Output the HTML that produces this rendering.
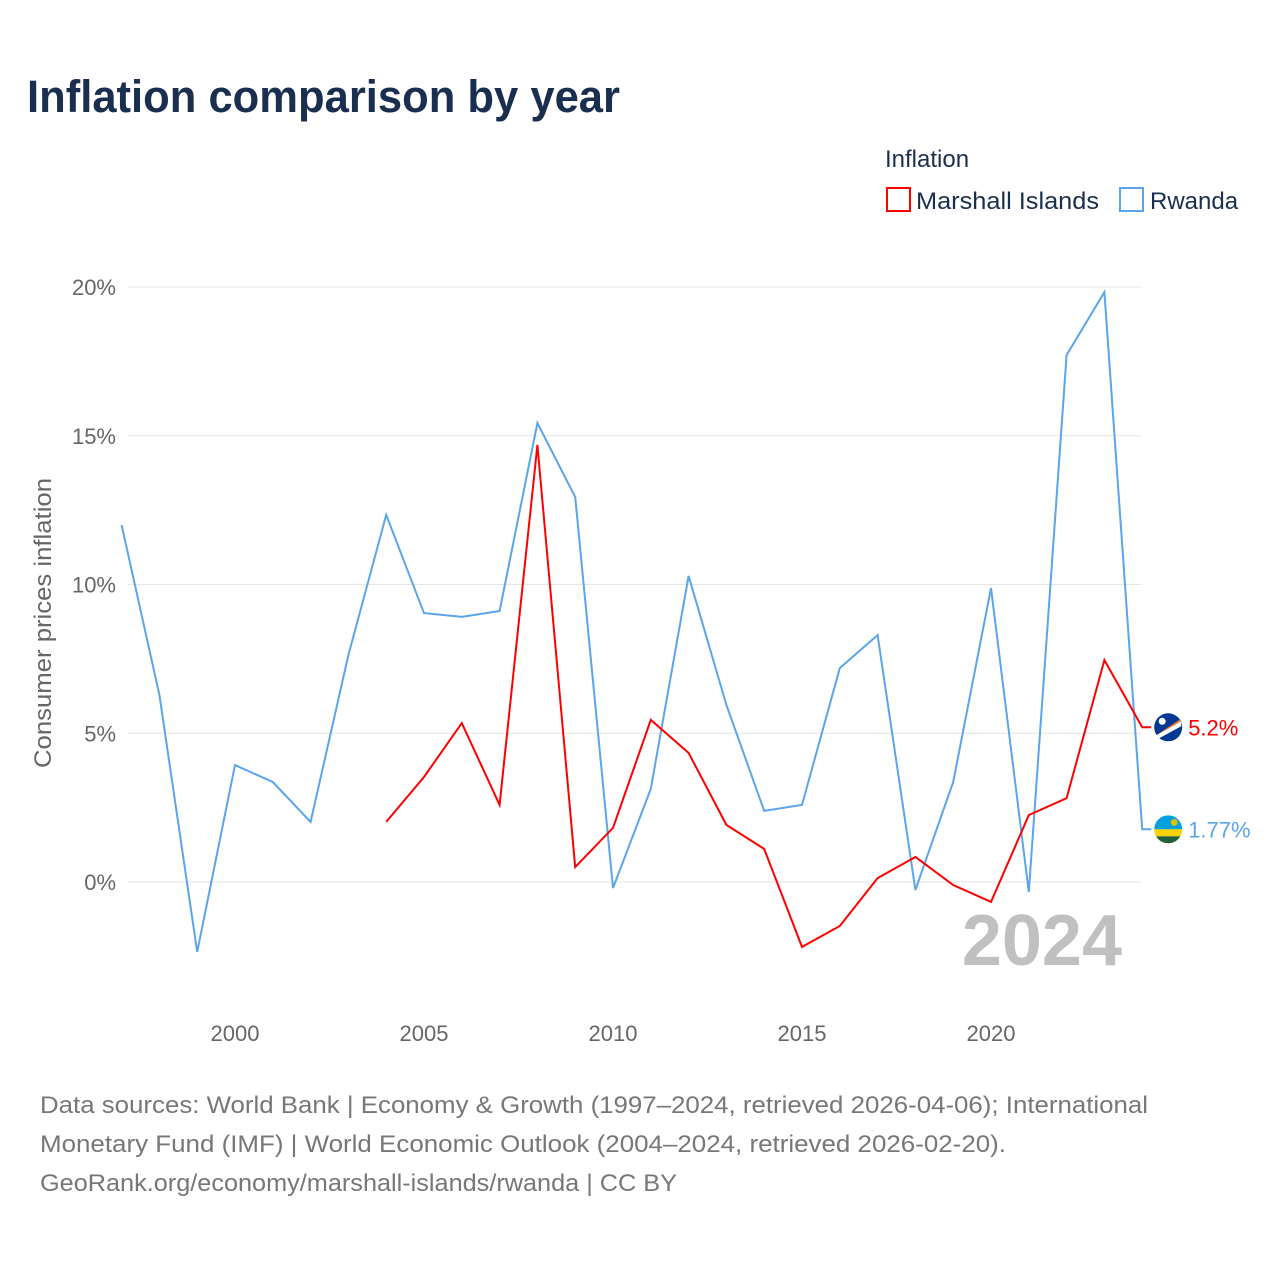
<!DOCTYPE html>
<html><head><meta charset="utf-8">
<style>
body{margin:0;background:#fff;font-family:"Liberation Sans",sans-serif;}
svg text{font-family:"Liberation Sans",sans-serif;}
</style></head>
<body>
<svg width="1280" height="1280" xmlns="http://www.w3.org/2000/svg" id="chart">
<text x="27" y="112" font-size="45" font-weight="bold" fill="#1a2e4f" textLength="593" lengthAdjust="spacingAndGlyphs">Inflation comparison by year</text>
<g>
<text x="885" y="167" font-size="24" fill="#1a2e4f">Inflation</text>
<g>
<rect x="887" y="188" width="23" height="23" fill="none" stroke="#ff0000" stroke-width="2"/>
<text x="916" y="209" font-size="24" fill="#1a2e4f" textLength="183" lengthAdjust="spacingAndGlyphs">Marshall Islands</text></g>
<g>
<rect x="1120" y="188" width="23" height="23" fill="none" stroke="#5aa5eb" stroke-width="2"/>
<text x="1150" y="209" font-size="24" fill="#1a2e4f">Rwanda</text></g>
</g>
<g id="grid"></g>
<g id="yticks"></g>
<g id="xticks"></g>
<text transform="translate(51,623) rotate(-90)" text-anchor="middle" font-size="24" fill="#666" textLength="290" lengthAdjust="spacingAndGlyphs">Consumer prices inflation</text>
<text x="1122" y="965" text-anchor="end" font-size="72" font-weight="bold" fill="#c0c0c0">2024</text>
<g id="series"></g>
<text x="40" y="1113" font-size="24" fill="#777" textLength="1108" lengthAdjust="spacingAndGlyphs">Data sources: World Bank | Economy &amp; Growth (1997–2024, retrieved 2026-04-06); International</text>
<text x="40" y="1152" font-size="24" fill="#777" textLength="966" lengthAdjust="spacingAndGlyphs">Monetary Fund (IMF) | World Economic Outlook (2004–2024, retrieved 2026-02-20).</text>
<text x="40" y="1191" font-size="24" fill="#777" textLength="637" lengthAdjust="spacingAndGlyphs">GeoRank.org/economy/marshall-islands/rwanda | CC BY</text>
</svg>
<script>
const years=[1997,1998,1999,2000,2001,2002,2003,2004,2005,2006,2007,2008,2009,2010,2011,2012,2013,2014,2015,2016,2017,2018,2019,2020,2021,2022,2023,2024];
const rwanda=[12.0,6.29,-2.35,3.93,3.36,2.02,7.63,12.34,9.04,8.91,9.11,15.43,12.94,-0.2,3.13,10.29,5.95,2.39,2.59,7.19,8.3,-0.27,3.36,9.88,-0.34,17.71,19.83,1.77];
const marshallYears=[2004,2005,2006,2007,2008,2009,2010,2011,2012,2013,2014,2015,2016,2017,2018,2019,2020,2021,2022,2023,2024];
const marshall=[2.02,3.53,5.34,2.59,14.69,0.5,1.82,5.45,4.34,1.92,1.11,-2.18,-1.48,0.13,0.84,-0.1,-0.67,2.25,2.82,7.46,5.2];
const yTicks=[0,5,10,15,20];
const yTickLabels=["0%","5%","10%","15%","20%"];
const xTicks=[2000,2005,2010,2015,2020];
const NS="http://www.w3.org/2000/svg";
const x=v=>121.6+(v-1997)*37.8;
const y=v=>882-v*29.75;
function mk(t,a,p){const e=document.createElementNS(NS,t);for(const k in a)e.setAttribute(k,a[k]);p.appendChild(e);return e;}
const grid=document.getElementById('grid'),yt=document.getElementById('yticks'),xt=document.getElementById('xticks'),se=document.getElementById('series');
yTicks.forEach((v,i)=>{
 const l=mk('line',{x1:128,x2:1141,y1:y(v),y2:y(v),stroke:'#e6e6e6','stroke-width':1},grid);
 
 
 const t=mk('text',{x:116,y:y(v)+8,'text-anchor':'end','font-size':22,fill:'#666'},yt);
 t.textContent=yTickLabels[i];
 
 
});
xTicks.forEach(v=>{
 const t=mk('text',{x:x(v),y:1041,'text-anchor':'middle','font-size':22,fill:'#666'},xt);
 t.textContent=v;
 
 
});
function line(xs,vs,c,name){
 const d=xs.map((yr,i)=>(i?'L':'M')+x(yr).toFixed(1)+','+y(vs[i]).toFixed(1)).join('')+'h9';
 const p=mk('path',{d:d,fill:'none',stroke:c,'stroke-width':2},se);
 
 
}
line(years,rwanda,'#5aa5eb','rwanda-line');
line(marshallYears,marshall,'#ff0000','marshall-islands-line');
const mv=marshall[marshall.length-1],rv=rwanda[rwanda.length-1];
const fx=x(2024)+26;
const f1=mk('g',{},se);


mk('circle',{cx:fx,cy:y(mv),r:14,fill:'#003893'},f1);
mk('path',{d:`M${fx-12},${y(mv)+8}L${fx+13},${y(mv)-6}L${fx+13},${y(mv)-1}L${fx-9},${y(mv)+11}Z`,fill:'#fff'},f1);
mk('path',{d:`M${fx-12},${y(mv)+8}L${fx+12},${y(mv)-8}L${fx+13},${y(mv)-6}Z`,fill:'#ee7d2b'},f1);
mk('circle',{cx:fx-6,cy:y(mv)-6,r:3.5,fill:'#fff'},f1);
const t1=mk('text',{x:fx+20,y:y(mv)+8,'font-size':22,fill:'#ff0000'},se);
t1.textContent=mv+'%';


const f2=mk('g',{},se);


const cy=y(rv);
mk('clipPath',{id:'rc'},f2);
mk('circle',{cx:fx,cy:cy,r:14},document.getElementById('rc'));
const g2=mk('g',{'clip-path':'url(#rc)'},f2);
mk('rect',{x:fx-14,y:cy-14,width:28,height:14,fill:'#00a1de'},g2);
mk('rect',{x:fx-14,y:cy,width:28,height:7,fill:'#fad201'},g2);
mk('rect',{x:fx-14,y:cy+7,width:28,height:7,fill:'#20603d'},g2);
mk('circle',{cx:fx+6,cy:cy-7,r:3.5,fill:'#e5be01'},g2);
const t2=mk('text',{x:fx+20,y:cy+8,'font-size':22,fill:'#5aa5eb'},se);
t2.textContent=rv+'%';


</script>
</body></html>
